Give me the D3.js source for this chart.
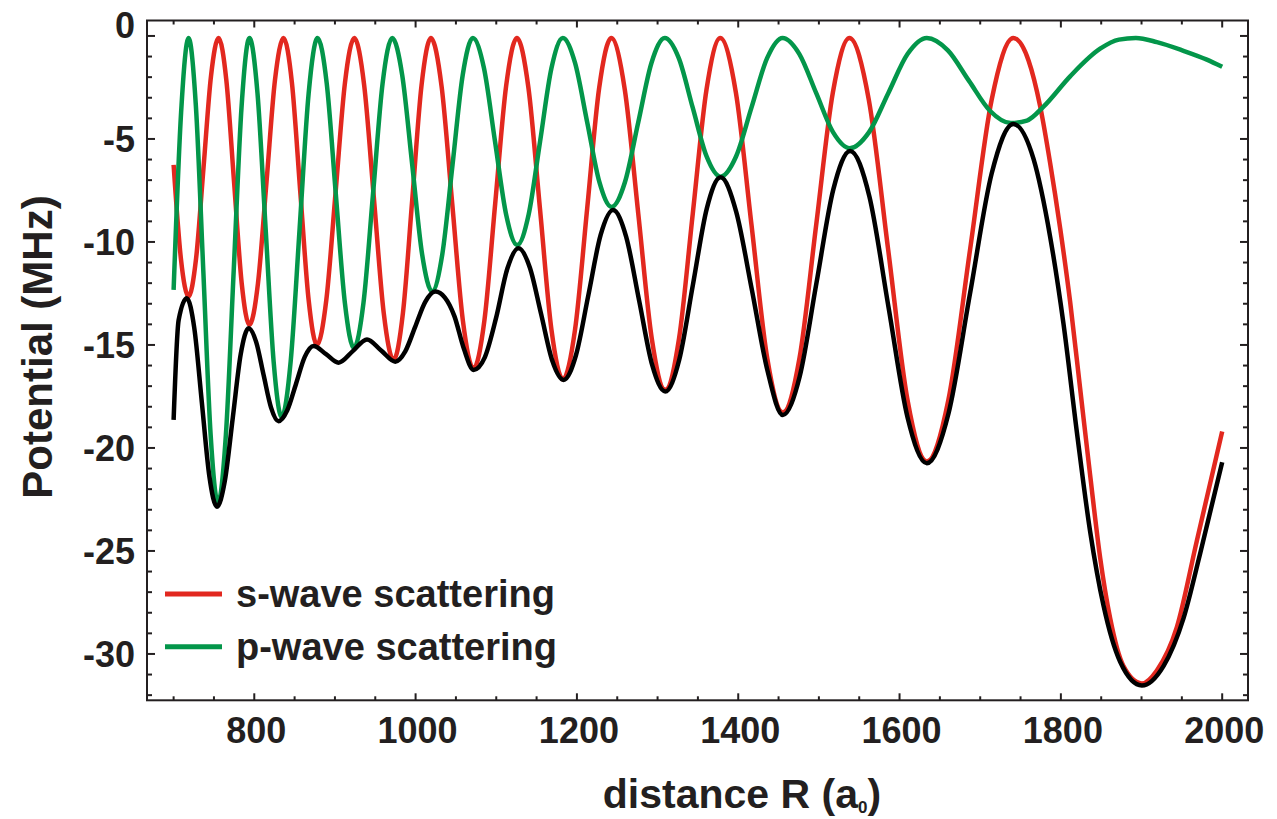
<!DOCTYPE html>
<html>
<head>
<meta charset="utf-8">
<script src="https://cdn.jsdelivr.net/npm/d3@7"></script>
<style>
  html, body { margin: 0; padding: 0; background: #fff; }
  svg { display: block; }
  text { font-family: "Liberation Sans", Arial, sans-serif; font-weight: bold; fill: #231f20; }
</style>
</head>
<body>
<svg id="chart" width="1277" height="819"></svg>
<script>
// ---------------- data ----------------
const xMajorTicks = [800, 1000, 1200, 1400, 1600, 1800, 2000];
const xMinorTicks = [700, 750, 850, 900, 950, 1050, 1100, 1150, 1250, 1300, 1350, 1450, 1500, 1550, 1650, 1700, 1750, 1850, 1900, 1950];
const yMajorTicks = [0, -5, -10, -15, -20, -25, -30];
const yMinorTicks = [-1, -2, -3, -4, -6, -7, -8, -9, -11, -12, -13, -14, -16, -17, -18, -19, -21, -22, -23, -24, -26, -27, -28, -29, -31, -32];

const seriesNames = ["s-wave scattering", "p-wave scattering"];

// s-wave scattering (red): [R (a0), potential (MHz)]
const sWave = [
  [700,-6.26],[709,-10.8],[718.5,-12.65],[727.8,-10.82],[737.1,-6.38],[746.4,-1.93],
  [755.7,-0.1],[765.3,-2.13],[774.9,-7.07],[784.4,-12.0],[794,-14.03],[804.6,-12.0],
  [815.2,-7.07],[825.7,-2.13],[836.3,-0.1],[846.7,-2.28],[857,-7.55],[867.4,-12.82],
  [877.7,-15.0],[889.3,-12.82],[900.9,-7.55],[912.4,-2.28],[924,-0.1],[936.2,-2.38],
  [948.4,-7.92],[960.5,-13.45],[972.7,-15.73],[984.3,-13.45],[995.9,-7.92],[1007.4,-2.38],
  [1019,-0.1],[1032.2,-2.44],[1045.4,-8.13],[1058.6,-13.81],[1071.8,-16.15],[1085.3,-13.81],
  [1098.7,-8.13],[1112.2,-2.44],[1125.6,-0.1],[1139.9,-2.52],[1154.2,-8.39],[1168.4,-14.25],
  [1182.7,-16.67],[1197.7,-14.25],[1212.7,-8.39],[1227.6,-2.52],[1242.6,-0.1],[1259.3,-2.59],
  [1276.1,-8.64],[1292.8,-14.69],[1309.5,-17.18],[1326.6,-14.69],[1343.6,-8.64],[1360.7,-2.59],
  [1377.7,-0.1],[1397.1,-2.75],[1416.5,-9.19],[1435.9,-15.63],[1455.3,-18.28],[1476,-15.63],
  [1496.6,-9.19],[1517.3,-2.75],[1537.9,-0.1],[1561.9,-3.1],[1585.9,-10.38],[1609.8,-17.66],
  [1633.8,-20.66],[1660.6,-17.66],[1687.4,-10.38],[1714.2,-3.1],[1741,-0.1],[1760,-1.2],
  [1774.4,-3.43],[1786.7,-6.17],[1799.1,-9.33],[1811.5,-12.91],[1823.9,-17.12],[1836.3,-21.33],
  [1848.7,-25.33],[1861.1,-28.27],[1877.6,-30.59],[1900.4,-31.43],[1919,-30.8],[1943.8,-28.7],
  [1968.6,-24.5],[2000,-19.2]
];

// p-wave scattering (green)
const pWave = [
  [700,-12.33],[709.3,-3.7],[718.5,-0.1],[727.6,-3.4],[736.8,-11.39],[745.9,-19.37],
  [755,-22.67],[764.8,-19.37],[774.5,-11.39],[784.3,-3.4],[794,-0.1],[804,-2.79],
  [814,-9.3],[824,-15.81],[834,-18.5],[845.1,-15.81],[856.3,-9.3],[867.4,-2.79],
  [878.5,-0.1],[889.8,-2.3],[901,-7.63],[912.3,-12.95],[923.5,-15.15],[935.4,-12.95],
  [947.3,-7.63],[959.1,-2.3],[971,-0.1],[983.4,-1.9],[995.8,-6.25],[1008.1,-10.6],
  [1020.5,-12.4],[1033.1,-10.6],[1045.8,-6.25],[1058.4,-1.9],[1071,-0.1],[1084.8,-1.57],
  [1098.5,-5.13],[1112.3,-8.68],[1126,-10.15],[1140.1,-8.68],[1154.3,-5.13],[1168.4,-1.57],
  [1182.5,-0.1],[1197.6,-1.3],[1212.8,-4.2],[1227.9,-7.1],[1243,-8.3],[1259.5,-7.1],
  [1276,-4.2],[1292.5,-1.3],[1309,-0.1],[1326.3,-1.08],[1343.5,-3.47],[1360.8,-5.85],
  [1378,-6.83],[1397.3,-5.85],[1416.5,-3.47],[1435.8,-1.08],[1455,-0.1],[1475.8,-0.88],
  [1496.7,-2.78],[1517.5,-4.67],[1538.3,-5.45],[1562.2,-4.67],[1586,-2.78],[1609.9,-0.88],
  [1633.8,-0.1],[1659.9,-0.7],[1685.9,-2.17],[1712,-3.63],[1738,-4.23],[1757.9,-4.11],
  [1778.5,-3.43],[1811.5,-1.96],[1848.7,-0.62],[1872,-0.18],[1893,-0.1],[1919,-0.3],
  [1952,-0.72],[1981,-1.15],[2000,-1.5]
];

// total potential (black)
const total = [
  [700,-18.64],[706.2,-13.8],[716.3,-12.73],[725.7,-14.2],[735,-17.79],[744.3,-21.37],
  [753.7,-22.85],[763.5,-21.6],[773.4,-18.52],[783.2,-15.45],[793,-14.19],[802.3,-14.85],
  [811.5,-16.45],[820.8,-18.04],[830,-18.7],[840.9,-18.17],[851.8,-16.88],[862.6,-15.58],
  [873.5,-15.05],[889,-15.45],[904.5,-15.86],[922.1,-15.3],[939.7,-14.73],[957.3,-15.27],
  [974.8,-15.81],[987.2,-15.31],[999.6,-14.11],[1012,-12.91],[1024.4,-12.41],[1036.3,-12.7],
  [1048.1,-13.6],[1060,-15.2],[1071.8,-16.21],[1085.8,-15.6],[1099.7,-13.7],[1113.7,-11.3],
  [1127.6,-10.31],[1141.6,-11.24],[1155.6,-13.5],[1169.5,-15.77],[1183.5,-16.7],[1198.8,-15.5],
  [1214.2,-12.58],[1229.5,-9.65],[1244.8,-8.45],[1261,-9.74],[1277.2,-12.86],[1293.3,-15.97],
  [1309.5,-17.26],[1326.7,-15.74],[1343.9,-12.06],[1361,-8.38],[1378.2,-6.86],[1397.5,-8.54],
  [1416.8,-12.3],[1436,-16.2],[1455.3,-18.4],[1476.2,-16.53],[1497,-11.99],[1517.9,-7.45],
  [1538.8,-5.58],[1562.6,-7.79],[1586.3,-13.16],[1610,-18.53],[1633.8,-20.74],[1660.6,-18.34],
  [1687.4,-12.5],[1714.2,-6.68],[1741,-4.27],[1766,-5.96],[1786.7,-9.75],[1803.2,-13.96],
  [1819.8,-19.22],[1836.3,-24.06],[1852.8,-27.64],[1873.5,-30.38],[1900.4,-31.53],[1927.2,-30.59],
  [1952,-28.27],[1972.7,-25.12],[2000,-20.69]
];

// ---------------- drawing ----------------
(function draw() {
  const svg = d3.select("#chart");
  const pL = 147, pR = 1248, pT = 20.5, pB = 700.3;
  const frameColor = "#231f20";
  const colors = { s: "#e2281f", p: "#03964a", t: "#000000" };

  const x = d3.scaleLinear().domain([667, 2032]).range([pL, pR]);
  const y = d3.scaleLinear().domain([-32.25, 0.75]).range([pB, pT]);

  // ticks (inward on all four sides)
  const tickG = svg.append("g").attr("stroke", frameColor).attr("stroke-width", 2);
  function xTicks(vals, len) {
    vals.forEach(v => {
      tickG.append("line").attr("x1", x(v)).attr("x2", x(v)).attr("y1", pB).attr("y2", pB - len);
      tickG.append("line").attr("x1", x(v)).attr("x2", x(v)).attr("y1", pT).attr("y2", pT + len);
    });
  }
  function yTicks(vals, len) {
    vals.forEach(v => {
      tickG.append("line").attr("y1", y(v)).attr("y2", y(v)).attr("x1", pL).attr("x2", pL + len);
      tickG.append("line").attr("y1", y(v)).attr("y2", y(v)).attr("x1", pR).attr("x2", pR - len);
    });
  }
  xTicks(xMajorTicks, 7); xTicks(xMinorTicks, 4);
  yTicks(yMajorTicks, 8); yTicks(yMinorTicks, 5);

  // frame
  svg.append("rect").attr("x", pL).attr("y", pT).attr("width", pR - pL).attr("height", pB - pT)
    .attr("fill", "none").attr("stroke", frameColor).attr("stroke-width", 2);

  // tick labels
  svg.append("g").selectAll("text").data(xMajorTicks).join("text")
    .attr("x", d => x(d) + 2).attr("y", 742.5).attr("text-anchor", "middle")
    .attr("font-size", 36).text(d => d);
  svg.append("g").selectAll("text").data(yMajorTicks).join("text")
    .attr("x", 135).attr("y", d => y(d) + (d === 0 ? -11 : 0)).attr("dy", "0.36em")
    .attr("text-anchor", "end").attr("font-size", 36).text(d => d);

  // curves
  const line = d3.line().x(d => x(d[0])).y(d => y(d[1])).curve(d3.curveMonotoneX);
  const curves = svg.append("g").attr("fill", "none").attr("stroke-width", 4.5)
    .attr("stroke-linejoin", "round").attr("stroke-linecap", "butt");
  curves.append("path").datum(sWave).attr("d", line).attr("stroke", colors.s);
  curves.append("path").datum(pWave).attr("d", line).attr("stroke", colors.p);
  curves.append("path").datum(total).attr("d", line).attr("stroke", colors.t);

  // axis titles
  svg.append("text").attr("transform", "translate(52,347) rotate(-90)")
    .attr("text-anchor", "middle").attr("font-size", 42).text("Potential (MHz)");
  const xt = svg.append("text").attr("x", 742).attr("y", 808).attr("text-anchor", "middle").attr("font-size", 41);
  xt.append("tspan").text("distance R (a");
  xt.append("tspan").attr("font-size", 17).attr("dy", 5).text("0");
  xt.append("tspan").attr("dy", -5).text(")");

  // legend
  const legend = svg.append("g");
  [[colors.s, 594, seriesNames[0]], [colors.p, 646.7, seriesNames[1]]].forEach(([c, yy, label]) => {
    legend.append("line").attr("x1", 165).attr("x2", 222).attr("y1", yy).attr("y2", yy)
      .attr("stroke", c).attr("stroke-width", 5);
    legend.append("text").attr("x", 236).attr("y", yy + 13).attr("font-size", 38).text(label);
  });
})();
</script>
</body>
</html>
